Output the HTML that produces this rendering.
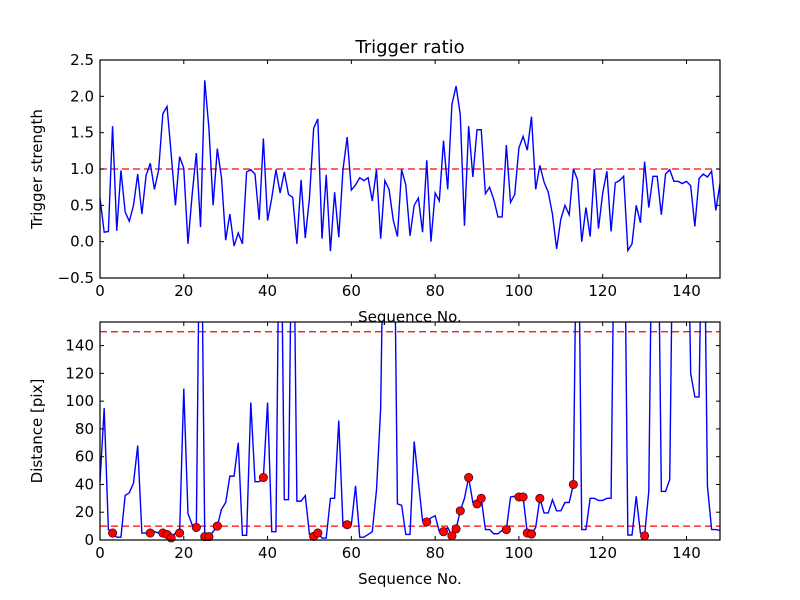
<!DOCTYPE html>
<html><head><meta charset="utf-8"><style>
body{margin:0;background:#fff;}
svg{display:block;font-family:"DejaVu Sans","Liberation Sans",sans-serif;}
</style></head><body>
<svg id="chart" width="800" height="600" viewBox="0 0 800 600"></svg>
<script>
const ratioValues=[0.6,0.13,0.14,1.59,0.15,0.98,0.41,0.28,0.5,0.93,0.38,0.91,1.08,0.72,0.99,1.76,1.86,1.2,0.5,1.17,1.01,-0.03,0.65,1.22,0.2,2.22,1.56,0.5,1.28,0.88,0.02,0.38,-0.06,0.12,-0.03,0.96,0.99,0.93,0.3,1.42,0.29,0.6,0.99,0.67,0.96,0.65,0.61,-0.03,0.85,0.05,0.6,1.56,1.69,0.04,0.92,-0.13,0.68,0.06,0.99,1.44,0.71,0.78,0.88,0.84,0.88,0.56,0.99,0.04,0.84,0.72,0.3,0.07,0.99,0.78,0.08,0.5,0.6,0.13,1.12,0,0.67,0.56,1.39,0.72,1.89,2.14,1.75,0.22,1.59,0.89,1.54,1.54,0.66,0.75,0.58,0.34,0.34,1.33,0.54,0.65,1.29,1.45,1.26,1.72,0.72,1.05,0.82,0.68,0.38,-0.1,0.31,0.5,0.37,1.0,0.85,0,0.47,0.07,1.0,0.18,0.67,0.97,0.14,0.81,0.84,0.9,-0.12,-0.03,0.5,0.26,1.1,0.47,0.9,0.9,0.37,0.93,0.99,0.83,0.83,0.8,0.83,0.77,0.21,0.87,0.93,0.89,0.97,0.43,0.8];
const distValues=[42,95,7.5,5,2,2,32,34,41,68,5,5,5,6,5,5,4,1.5,5,5,109,19,11,9,300,2.4,2.4,6,10,22,27,46,46,70,3.4,3.4,99,42,42,45,99,6,6,300,29,29,300,28,28,32,4,2.6,5,1.4,1.4,30,30,86,10.6,11,11,39,2,2,4,6,36,95,300,300,300,26,25,4,4,71,42,14,13,16,17.5,6,6,9,3,8,21,30,45,27,26,30,7.5,7.5,4.5,4.5,7,7.5,31,31.5,31,31,5,4.3,9,30,19.5,19.5,29,21,21,27,27,40,300,7.5,7.5,30,30,28.5,28.5,30,30,300,300,300,3.6,3.6,31.5,5,3,35,300,300,35,35,43.5,300,300,300,300,120,103,103,300,39,7.5,7.5,7];
const markerIdx=[3,12,15,16,17,19,23,25,26,28,39,51,52,59,78,82,84,85,86,88,90,91,97,100,101,102,103,105,113,130];
const xTicks=[0,20,40,60,80,100,120,140];
const topYTicks=[-0.5,0,0.5,1.0,1.5,2.0,2.5];
const botYTicks=[0,20,40,60,80,100,120,140];
const topThresholds=[1.0];
const botThresholds=[10,150];

const NS="http://www.w3.org/2000/svg";
const svg=document.getElementById('chart');
function mk(tag,attrs,parent){const e=document.createElementNS(NS,tag);for(const k in attrs)e.setAttribute(k,attrs[k]);(parent||svg).appendChild(e);return e;}
const L=100,R=720,X0=0,X1=148;
const sx=v=>L+(v-X0)/(X1-X0)*(R-L);
function axes(name,top,bot,y0,y1,yt,fmt,vals,thr,ylabel,markers){
  const sy=v=>bot-(v-y0)/(y1-y0)*(bot-top);
  const g=mk('g',{});
  
  
  const cid='clip-'+name;
  const cp=mk('clipPath',{id:cid},g);mk('rect',{x:L,y:top,width:R-L,height:bot-top},cp);
  thr.forEach(t=>{const l=mk('line',{x1:L,x2:R,y1:sy(t),y2:sy(t),stroke:'#ff0000','stroke-width':1.3,'stroke-dasharray':'7,4','clip-path':`url(#${cid})`},g);
    
    });
  const d=vals.map((v,i)=>(i?'L':'M')+sx(i).toFixed(2)+','+sy(v).toFixed(2)).join('');
  const p=mk('path',{d:d,fill:'none',stroke:'#0000ff','stroke-width':1.4,'clip-path':`url(#${cid})`},g);
  
  
  if(markers)markers.forEach(i=>{const c=mk('circle',{cx:sx(i),cy:sy(vals[i]),r:4.2,fill:'#ff0000',stroke:'#000','stroke-width':0.6},g);
    
    });
  mk('rect',{x:L,y:top,width:R-L,height:bot-top,fill:'none',stroke:'#000','stroke-width':1.2},g);
  xTicks.forEach(t=>{const x=sx(t);
    mk('line',{x1:x,x2:x,y1:bot,y2:bot-4,stroke:'#000'},g);mk('line',{x1:x,x2:x,y1:top,y2:top+4,stroke:'#000'},g);
    const tx=mk('text',{x:x,y:bot+18,'text-anchor':'middle','font-size':15},g);tx.textContent=t;
    
    });
  yt.forEach(t=>{const y=sy(t);
    mk('line',{x1:L,x2:L+4,y1:y,y2:y,stroke:'#000'},g);mk('line',{x1:R,x2:R-4,y1:y,y2:y,stroke:'#000'},g);
    const tx=mk('text',{x:L-6,y:y+5,'text-anchor':'end','font-size':15},g);tx.textContent=fmt(t).replace('-','\u2212');
    
    });
  const xl=mk('text',{x:(L+R)/2,y:bot+44,'text-anchor':'middle','font-size':15},g);xl.textContent='Sequence No.';
  
  
  const yl=mk('text',{x:0,y:0,'text-anchor':'middle','font-size':15,transform:`translate(${L-58},${(top+bot)/2}) rotate(-90)`},g);yl.textContent=ylabel;
  
  
}
axes('top-axes',60,278,-0.5,2.5,topYTicks,t=>t.toFixed(1),ratioValues,topThresholds,'Trigger strength',null);
axes('bottom-axes',322,540,0,157,botYTicks,t=>String(t),distValues,botThresholds,'Distance [pix]',markerIdx);
const title=mk('text',{x:410,y:53,'text-anchor':'middle','font-size':18});title.textContent='Trigger ratio';


</script>
</body></html>
